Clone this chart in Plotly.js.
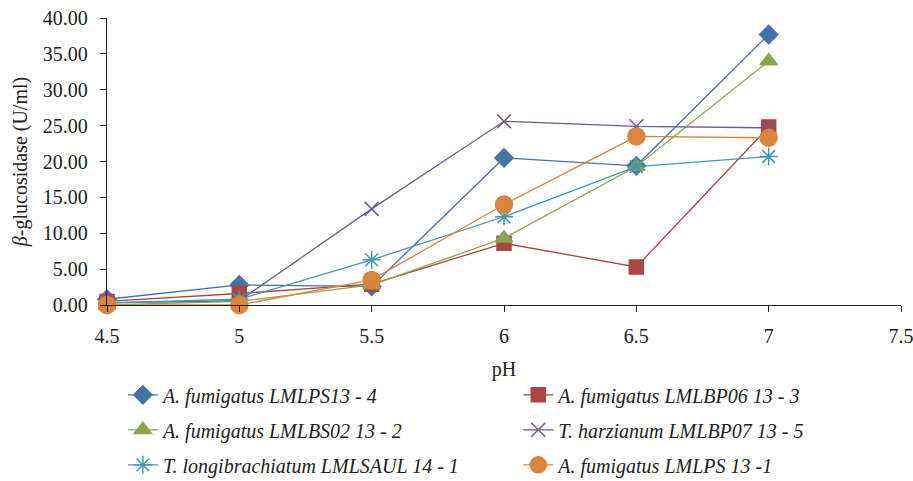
<!DOCTYPE html>
<html><head><meta charset="utf-8">
<script src="https://cdn.plot.ly/plotly-3.0.1.min.js"></script>
<style>body{margin:0;background:#fff}#chart{width:913px;height:481px}</style>
</head><body><div id="chart"></div>
<script>
const pH = [4.5, 5, 5.5, 6, 6.5, 7];
const seriesNames = [
  "A. fumigatus LMLPS13 - 4",
  "A. fumigatus LMLBP06 13 - 3",
  "A. fumigatus LMLBS02 13 - 2",
  "T. harzianum LMLBP07 13 - 5",
  "T. longibrachiatum LMLSAUL 14 - 1",
  "A. fumigatus LMLPS 13 -1"
];
const lmlps13_4 = [0.8, 2.8, 2.6, 20.5, 19.4, 37.7];
const lmlbp06_13_3 = [0.5, 1.6, 2.9, 8.6, 5.3, 24.8];
const lmlbs02_13_2 = [0.0, 0.5, 2.8, 9.3, 19.3, 34.0];
const lmlbp07_13_5 = [0.3, 0.6, 13.4, 25.6, 24.9, 24.7];
const lmlsaul_14_1 = [0.3, 0.8, 6.3, 12.3, 19.3, 20.7];
const lmlps_13_1 = [0.0, 0.0, 3.5, 14.0, 23.5, 23.3];
const yTicks = [0, 5, 10, 15, 20, 25, 30, 35, 40];
const xTicks = [4.5, 5, 5.5, 6, 6.5, 7, 7.5];

const values = [lmlps13_4, lmlbp06_13_3, lmlbs02_13_2, lmlbp07_13_5, lmlsaul_14_1, lmlps_13_1];
const colors = ["#4572A7", "#AA4643", "#89A54E", "#71588F", "#4198AF", "#DB843D"];
const symbols = ["diamond", "square", "triangle-up", "x-thin-open", "asterisk-open", "circle"];
const sizes = [14, 14, 15, 14, 15, 17];
const legendIds = ["legend", "legend2", "legend", "legend2", "legend", "legend2"];

const traces = values.map((v, i) => ({
  x: pH, y: v, type: "scatter", mode: "lines+markers", cliponaxis: false,
  name: "<i>" + seriesNames[i] + "</i>",
  line: {color: colors[i], width: 1.3},
  marker: {color: colors[i], symbol: symbols[i], size: sizes[i], line: {color: colors[i], width: 1.5}},
  legend: legendIds[i], legendgroup: "g" + i
}));

const fam = "Liberation Serif, Times New Roman, serif";
const font = {family: fam, size: 20, color: "#222"};
const legendFont = {family: fam, size: 20, color: "#222"};
const layout = {
  width: 913, height: 481,
  margin: {l: 107, r: 12, t: 18, b: 176, autoexpand: false},
  paper_bgcolor: "#fff", plot_bgcolor: "#fff",
  font: font, showlegend: true,
  xaxis: {
    range: [4.5, 7.5], tickvals: xTicks, ticktext: xTicks.map(String),
    showgrid: false, zeroline: false, showline: true, linecolor: "#222", linewidth: 1.2,
    ticks: "outside", ticklen: 6, tickcolor: "#222", ticklabelstandoff: 7,
    ticklabeloverflow: "allow",
    title: {text: "pH", font: {family: fam, size: 20, color: "#222"}, standoff: 15}
  },
  yaxis: {
    range: [0, 40], tickvals: yTicks, tickformat: ".2f",
    showgrid: false, zeroline: false, showline: true, linecolor: "#222", linewidth: 1.2,
    ticks: "outside", ticklen: 6, tickcolor: "#222", ticklabelstandoff: 8,
    ticklabeloverflow: "allow",
    title: {text: "<i>β</i>-glucosidase (U/ml)", font: {family: fam, size: 20, color: "#222"}, standoff: 9}
  },
  legend: {x: 0.02, y: -0.245, xanchor: "left", yanchor: "top", orientation: "v", tracegroupgap: 6, font: legendFont, bgcolor: "rgba(0,0,0,0)"},
  legend2: {x: 0.518, y: -0.245, xanchor: "left", yanchor: "top", orientation: "v", tracegroupgap: 6, font: legendFont, bgcolor: "rgba(0,0,0,0)"}
};
Plotly.newPlot("chart", traces, layout, {displayModeBar: false, staticPlot: true});
</script></body></html>
